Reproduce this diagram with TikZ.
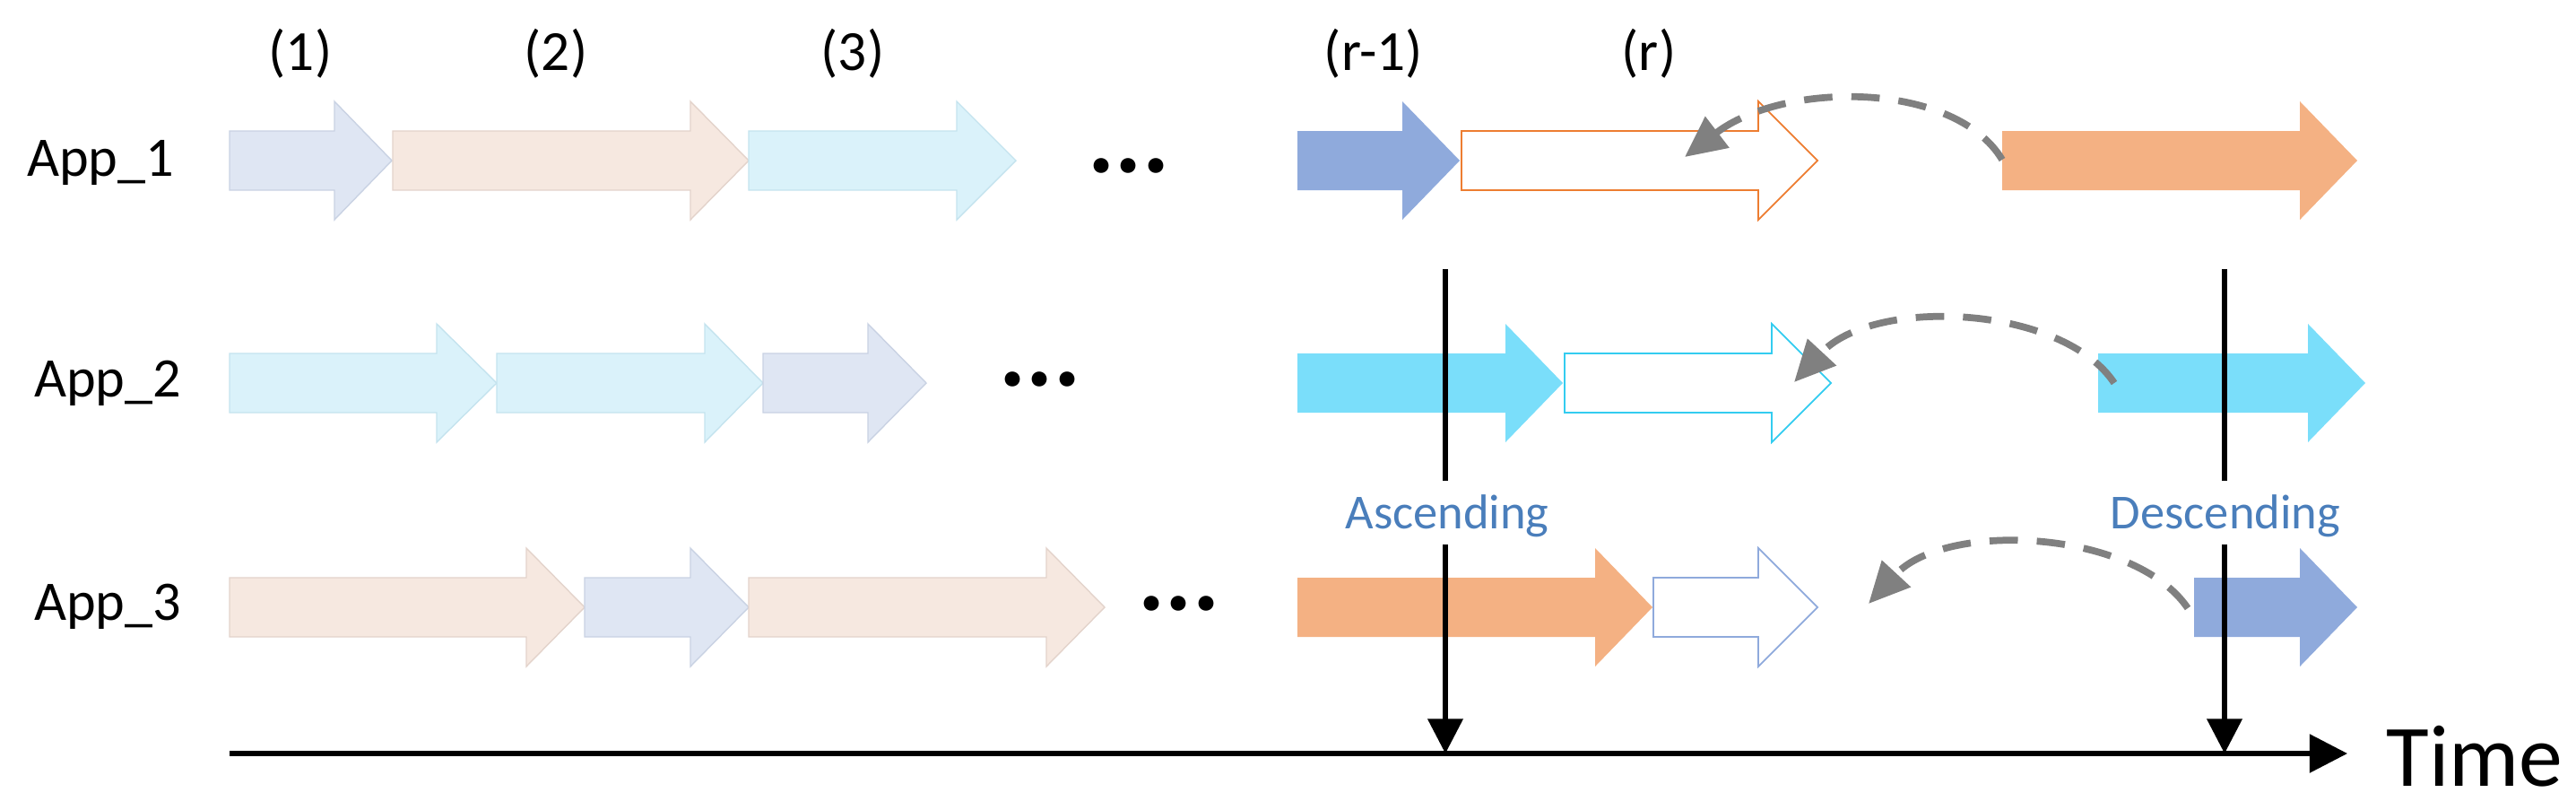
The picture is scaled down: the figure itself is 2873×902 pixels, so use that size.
\documentclass[tikz,border=0pt]{standalone}
\usepackage{fontspec}
\setmainfont{Carlito}
\usetikzlibrary{arrows.meta}
\definecolor{lblue}{HTML}{DFE6F3}\definecolor{lbluee}{HTML}{C9D2E3}
\definecolor{lpeach}{HTML}{F6E8E0}\definecolor{lpeache}{HTML}{E3D3CB}
\definecolor{lcyan}{HTML}{DAF2FA}\definecolor{lcyane}{HTML}{C4E3EE}
\definecolor{sblue}{HTML}{8FAADC}\definecolor{sorange}{HTML}{F4B183}
\definecolor{scyan}{HTML}{7ADEFA}\definecolor{txtblue}{HTML}{4A7EBB}
\definecolor{oorange}{HTML}{ED7D31}\definecolor{ocyan}{HTML}{33CCF0}
\newcommand\blkarr[5]{\fill[#5] (#1,-#4+33)--(#2,-#4+33)--(#2,-#4+66)--(#3,-#4)--(#2,-#4-66)--(#2,-#4-33)--(#1,-#4-33)--cycle;}
\begin{document}
\begin{tikzpicture}[x=0.01cm,y=0.01cm,
  lb/.style={fill=lblue,draw=lbluee,line width=0.4pt},
  lp/.style={fill=lpeach,draw=lpeache,line width=0.4pt},
  lc/.style={fill=lcyan,draw=lcyane,line width=0.4pt},
  sb/.style={fill=sblue},so/.style={fill=sorange},sc/.style={fill=scyan},
  ob/.style={fill=white,draw=sblue,line width=0.5pt},
  oo/.style={fill=white,draw=oorange,line width=0.5pt},
  oc/.style={fill=white,draw=ocyan,line width=0.5pt},
  lab/.style={font=\fontsize{17.7}{20}\selectfont},
  num/.style={font=\fontsize{18}{20}\selectfont},
  dots/.style={font=\fontsize{32}{32}\selectfont\bfseries},
  asc/.style={font=\fontsize{15.5}{18}\selectfont,text=txtblue},
  backdash/.style={draw=gray,line width=2.2pt,dash pattern=on 9pt off 6pt,-{Triangle[length=13pt,width=12pt]}},
  vline/.style={line width=1.5pt},
  vtip/.style={line width=1.5pt,-{Triangle[length=11pt,width=11pt]}}]
\useasboundingbox (0,0) rectangle (2873,-902);
% row labels
\node[lab] (app1) at (112,-181) {App\_1};
\node[lab] (app2) at (120,-427) {App\_2};
\node[lab] (app3) at (120,-676) {App\_3};
\node[num] (n1) at (335,-60) {(1)};
\node[num] (n2) at (620,-60) {(2)};
\node[num] (n3) at (951,-60) {(3)};
\node[num] (nr1) at (1532,-60) {(r-1)};
\node[num] (nr) at (1839,-60) {(r)};
% row 1
\blkarr{256}{373}{437}{179}{lb}
\blkarr{438}{770}{835}{179}{lp}
\blkarr{835}{1067}{1133}{179}{lc}
\node[dots] (d1) at (1259,-185) {...};
\blkarr{1447}{1564}{1628}{179}{sb}
\blkarr{1630}{1961}{2027}{179}{oo}
\blkarr{2233}{2565}{2629}{179}{so}
% row 2
\blkarr{256}{487}{554}{427}{lc}
\blkarr{554}{786}{851}{427}{lc}
\blkarr{851}{968}{1033}{427}{lb}
\node[dots] (d2) at (1160,-423) {...};
\blkarr{1447}{1679}{1743}{427}{sc}
\blkarr{1745}{1976}{2042}{427}{oc}
\blkarr{2340}{2574}{2638}{427}{sc}
% row 3
\blkarr{256}{587}{652}{677}{lp}
\blkarr{652}{770}{835}{677}{lb}
\blkarr{835}{1167}{1232}{677}{lp}
\node[dots] (d3) at (1315,-673) {...};
\blkarr{1447}{1779}{1843}{677}{so}
\blkarr{1844}{1961}{2027}{677}{ob}
\blkarr{2447}{2565}{2629}{677}{sb}
% dashed arrows
\coordinate (s1) at (2233,-178); \coordinate (e1) at (1879,-175);
\draw[backdash] (s1) .. controls (2180,-90) and (1990,-90) .. (e1);
\coordinate (s2) at (2358,-427); \coordinate (e2) at (2001,-426);
\draw[backdash] (s2) .. controls (2300,-340) and (2090,-330) .. (e2);
\coordinate (s3) at (2440,-678); \coordinate (e3) at (2084,-673);
\draw[backdash] (s3) .. controls (2380,-590) and (2170,-580) .. (e3);
% time axis
\coordinate (t0) at (256,-840); \coordinate (t1) at (2618,-840);
\draw[line width=1.5pt,-{Triangle[length=12pt,width=12pt]}] (t0) -- (t1);
\node[font=\fontsize{27.8}{30}\selectfont] (time) at (2760,-843) {Time};
% vertical markers
\node[asc] (asc) at (1614,-575) {Ascending};
\node[asc] (desc) at (2482,-575) {Descending};
\coordinate (a0) at (1612,-300); \coordinate (a1) at (1612,-536);
\coordinate (a2) at (1612,-607); \coordinate (a3) at (1612,-840);
\coordinate (b0) at (2481,-300); \coordinate (b1) at (2481,-536);
\coordinate (b2) at (2481,-607); \coordinate (b3) at (2481,-840);
\draw[vline] (a0) -- (a1); \draw[vtip] (a2) -- (a3);
\draw[vline] (b0) -- (b1); \draw[vtip] (b2) -- (b3);
\end{tikzpicture}
\end{document}
